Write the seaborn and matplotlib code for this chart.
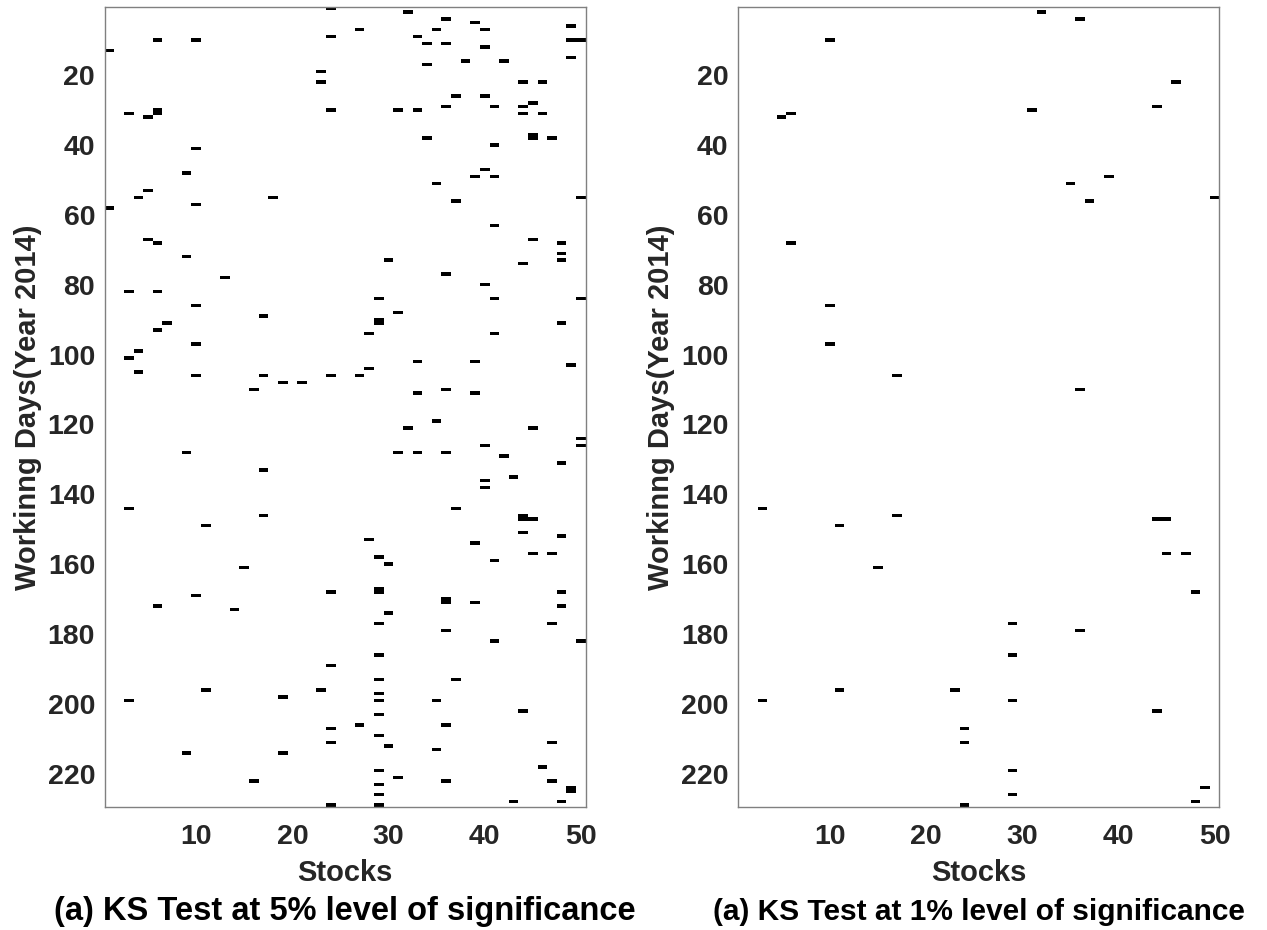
import numpy as np
import pandas as pd
import matplotlib
matplotlib.use("Agg")
import matplotlib.pyplot as plt
from matplotlib.colors import ListedColormap
import seaborn as sns

# Rejections of the KS test: (stock index, working day) pairs
sig5_stock = [24, 6, 10, 1, 24, 23, 23, 24, 3, 5, 6, 6, 10, 9, 5, 4, 18, 10, 1,
              32, 36, 39, 27, 35, 40, 49, 33, 34, 36, 40, 49, 50, 49, 34, 38, 42, 44, 46,
              37, 40, 36, 41, 31, 33, 44, 45, 44, 46, 34, 45, 45, 47, 41, 40, 39, 41, 35, 37, 50,
              5, 6, 9, 13, 3, 6, 10, 17, 7, 6, 10, 4, 3, 4, 10, 17, 16, 19, 21, 24,
              41, 45, 48, 48, 48, 44, 30, 36, 40, 29, 41, 50, 31, 29, 29, 28, 48, 41, 33, 39,
              49, 28, 27, 33, 36, 39,
              9, 17, 3, 17, 11, 15, 24, 10, 6, 14,
              35, 32, 45, 50, 50, 40, 31, 33, 36, 42, 48, 43, 40, 40, 37, 44, 44, 45, 44, 48,
              28, 39, 29, 30, 41, 45, 47, 29, 29, 48, 36, 36, 39, 48,
              24, 11, 23, 3, 19, 24, 24, 9, 19, 16, 24,
              30, 29, 47, 36, 41, 50, 29, 29, 37, 29, 29, 35, 44, 29, 27, 36, 29, 30, 35, 47,
              46, 29, 31, 36, 47, 49, 49, 29, 29, 29, 43, 48]
sig5_day = [1, 10, 10, 13, 9, 19, 22, 30, 31, 32, 30, 31, 41, 48, 53, 55, 55, 57, 58,
            2, 4, 5, 7, 7, 7, 6, 9, 11, 11, 12, 10, 10, 15, 17, 16, 16, 22, 22,
            26, 26, 29, 29, 30, 30, 29, 28, 31, 31, 38, 37, 38, 38, 40, 47, 49, 49, 51, 56, 55,
            67, 68, 72, 78, 82, 82, 86, 89, 91, 93, 97, 99, 101, 105, 106, 106, 110, 108, 108, 106,
            63, 67, 68, 71, 73, 74, 73, 77, 80, 84, 84, 84, 88, 90, 91, 94, 91, 94, 102, 102,
            103, 104, 106, 111, 110, 111,
            128, 133, 144, 146, 149, 161, 168, 169, 172, 173,
            119, 121, 121, 124, 126, 126, 128, 128, 128, 129, 131, 135, 136, 138, 144, 146, 147, 147, 151, 152,
            153, 154, 158, 160, 159, 157, 157, 167, 168, 168, 170, 171, 171, 172,
            189, 196, 196, 199, 198, 207, 211, 214, 214, 222, 229,
            174, 177, 177, 179, 182, 182, 186, 193, 193, 197, 199, 199, 202, 203, 206, 206, 209, 212, 213, 211,
            218, 219, 221, 222, 222, 224, 225, 223, 226, 229, 228, 228]

sig1_stock = [32, 36, 10, 5, 6, 31, 46, 44, 35, 39, 37, 50, 6, 10, 10, 17, 36,
              3, 11, 17, 15, 44, 45, 45, 47, 48, 29, 36, 29, 3, 11, 23, 29, 44,
              24, 24, 29, 29, 24, 49, 48]
sig1_day = [2, 4, 10, 32, 31, 30, 22, 29, 51, 49, 56, 55, 68, 86, 97, 106, 110,
            144, 149, 146, 161, 147, 147, 157, 157, 168, 177, 179, 186, 199, 196, 196, 199, 202,
            207, 211, 219, 226, 229, 224, 228]

n_stocks = 50
n_days = 229
x_ticks = [10, 20, 30, 40, 50]
y_ticks = [20, 40, 60, 80, 100, 120, 140, 160, 180, 200, 220]

panel_titles = ["(a) KS Test at 5% level of significance",
                "(a) KS Test at 1% level of significance"]
title_sizes = [23.5, 21.5]
x_label = "Stocks"
y_label = "Workinng Days(Year 2014)"


def rejection_table(stocks, days):
    df = pd.DataFrame({"stock": stocks, "day": days, "reject": 1})
    tab = (df.drop_duplicates(["stock", "day"])
             .pivot(index="day", columns="stock", values="reject")
             .reindex(index=range(1, n_days + 1), columns=range(1, n_stocks + 1))
             .fillna(0))
    return tab


sns.set_theme(style="white")
plt.rcParams["font.family"] = ["Liberation Sans", "DejaVu Sans"]
plt.rcParams["font.weight"] = "bold"

fig = plt.figure(figsize=(12.67, 9.30), dpi=100)
ax_pos = [[0.0827, 0.1323, 0.3796, 0.8602],
          [0.5827, 0.1323, 0.3798, 0.8602]]

axis_gray = "#808080"
text_dark = "#262626"
cmap = ListedColormap(["white", "black"])

for pos, (stocks, days), title, tsize in zip(ax_pos,
                                            [(sig5_stock, sig5_day), (sig1_stock, sig1_day)],
                                            panel_titles, title_sizes):
    ax = fig.add_axes(pos)
    tab = rejection_table(stocks, days)
    sns.heatmap(tab, ax=ax, cmap=cmap, vmin=0, vmax=1, cbar=False,
                xticklabels=False, yticklabels=False, linewidths=0)

    ax.set_xticks([t - 0.5 for t in x_ticks])
    ax.set_xticklabels([str(t) for t in x_ticks])
    ax.set_yticks([t - 0.5 for t in y_ticks])
    ax.set_yticklabels([str(t) for t in y_ticks], rotation=0)

    for s in ax.spines.values():
        s.set_visible(True)
        s.set_color(axis_gray)
        s.set_linewidth(1.0)

    ax.tick_params(axis="both", which="both", direction="in", length=6, width=1,
                   color=axis_gray, labelcolor=text_dark, labelsize=20.5,
                   top=True, right=True, labeltop=False, labelright=False)
    ax.tick_params(axis="x", pad=12)
    ax.tick_params(axis="y", pad=7)
    for lab in ax.get_xticklabels() + ax.get_yticklabels():
        lab.set_fontweight("bold")

    ax.set_xlabel(x_label, fontsize=21, fontweight="bold", color=text_dark)
    ax.xaxis.set_label_coords(0.5, -0.0825)
    ax.xaxis.label.set_va("center")
    ax.set_ylabel(y_label, fontsize=21, fontweight="bold", color=text_dark)
    ax.yaxis.set_label_coords(-0.16, 0.5)
    ax.yaxis.label.set_va("center")

    ax.text(0.5, -0.131, title, transform=ax.transAxes, ha="center", va="center",
            fontsize=tsize, fontweight="bold", color="black")

fig.savefig("out.png", dpi=100, facecolor="white")
